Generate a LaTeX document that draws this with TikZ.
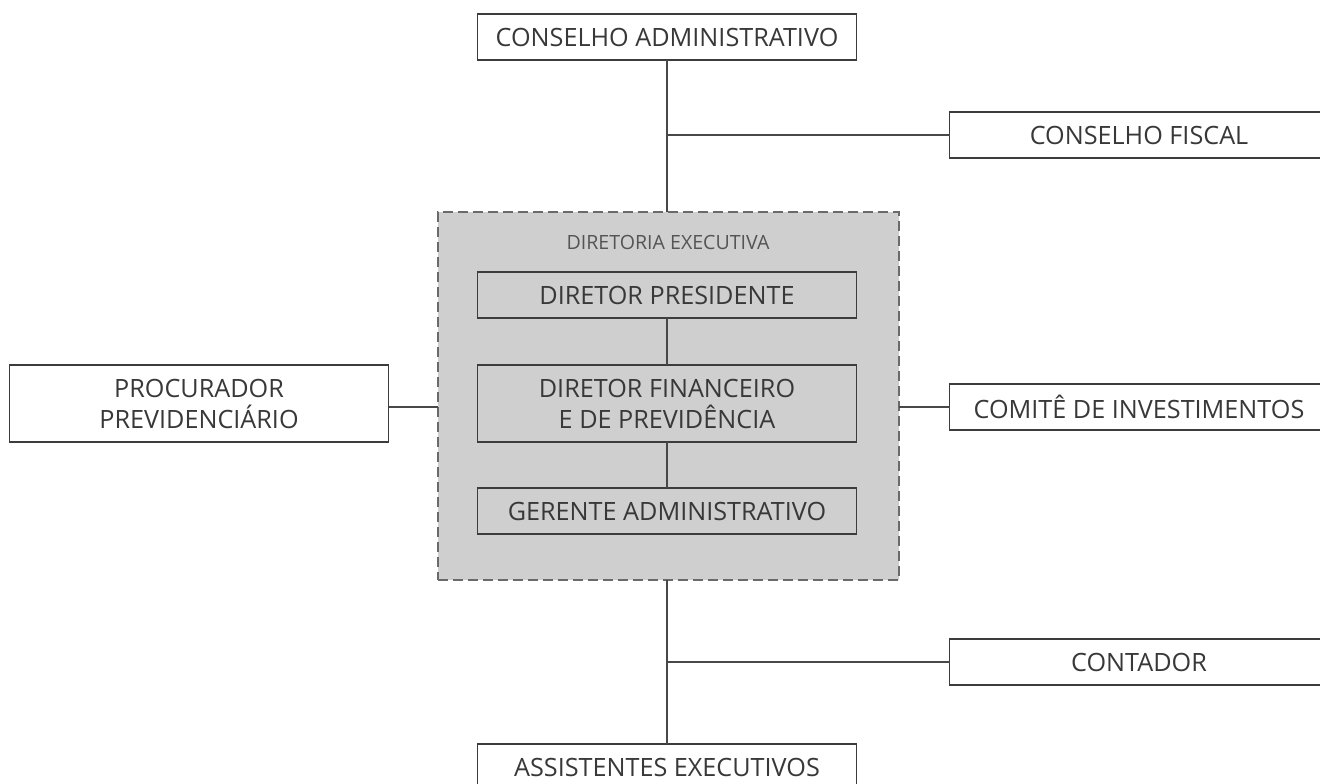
\documentclass[tikz,border=0pt]{standalone}
\usepackage{fontspec}
\setmainfont{Open Sans}
\usetikzlibrary{positioning, fit, backgrounds}

\definecolor{boxline}{HTML}{3C3C3C}
\definecolor{linkgray}{HTML}{484848}
\definecolor{orgtext}{HTML}{383838}
\definecolor{dexfill}{HTML}{D0CFCF}
\definecolor{dexdash}{HTML}{6A6A6A}
\definecolor{labtext}{HTML}{555555}

\tikzset{
	orgbox/.style={draw=boxline, line width=0.75pt, minimum width=189.5pt, minimum height=23pt,
		inner sep=0pt, outer sep=0pt, align=center, text=orgtext, font=\fontsize{12.6}{15.5}\selectfont},
	tallbox/.style={orgbox, minimum height=38.5pt},
	link/.style={draw=linkgray, line width=0.6pt},
	dexbox/.style={draw=dexdash, fill=dexfill, dash pattern=on 5pt off 2.5pt, line width=1pt,
		inner sep=0pt, outer sep=0pt},
	dexlabel/.style={text=labtext, inner sep=0pt, font=\fontsize{9.8}{12}\selectfont}
}

\begin{document}
\begin{tikzpicture}
	\useasboundingbox (0,0) rectangle (660pt,-391.5pt);

	\node[orgbox] (ca) at (333.5pt,-18.5pt) {CONSELHO ADMINISTRATIVO};
	\node[orgbox, below=106pt of ca] (dp) {DIRETOR PRESIDENTE};
	\node[tallbox, below=23.5pt of dp] (df) {DIRETOR FINANCEIRO\\E DE PREVIDÊNCIA};
	\node[orgbox, below=23pt of df] (ga) {GERENTE ADMINISTRATIVO};
	\node[orgbox, below=105pt of ga] (ae) {ASSISTENTES EXECUTIVOS};

	\node[orgbox, below right=26pt and 46.5pt of ca] (cf) {CONSELHO FISCAL};
	\node[orgbox, right=46.5pt of df, yshift=-1.75pt] (com) {COMITÊ DE INVESTIMENTOS};
	\node[orgbox, below=104.5pt of com] (ct) {CONTADOR};
	\node[tallbox, left=44.5pt of df] (pr) {PROCURADOR\\PREVIDENCIÁRIO};

	% diretoria executiva
	\coordinate (dnw) at ([shift={(-20pt,30pt)}]dp.north west);
	\coordinate (dse) at ([shift={(21pt,-23pt)}]ga.south east);
	\begin{scope}[on background layer]
		\node[dexbox, fit=(dnw)(dse)] (dex) {};
	\end{scope}
	\node[dexlabel] (dlab) at ([yshift=-15pt]dex.north) {DIRETORIA EXECUTIVA};

	\draw[link] (ca.south) -- (ca.south |- dex.north);
	\draw[link] (ca.south |- cf) -- (cf.west);
	\draw[link] (dp) -- (df);
	\draw[link] (df) -- (ga);
	\draw[link] (ae.north |- dex.south) -- (ae.north);
	\draw[link] (ae.north |- ct) -- (ct.west);
	\draw[link] (dex.east |- com) -- (com.west);
	\draw[link] (pr.east |- com) -- (dex.west |- com);
\end{tikzpicture}
\end{document}
